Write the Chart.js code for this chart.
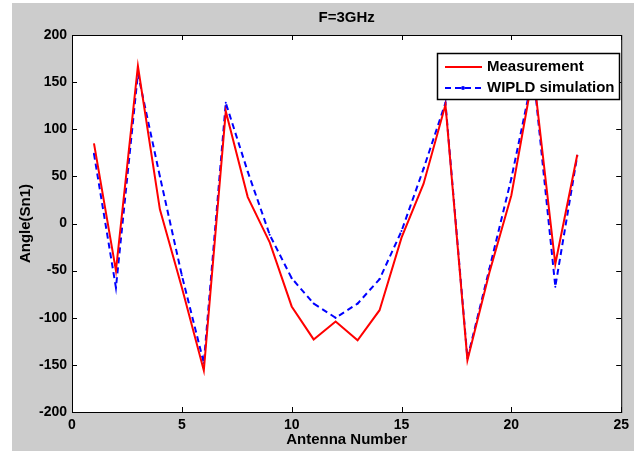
<!DOCTYPE html>
<html>
<head>
<meta charset="utf-8">
<script src="https://cdn.jsdelivr.net/npm/chart.js@4/dist/chart.umd.min.js"></script>
<style>
  html, body { margin: 0; padding: 0; background: #fff; }
  #fig { position: absolute; left: 12px; top: 3px; background: #cccccc; }
</style>
</head>
<body>
<canvas id="fig" width="622" height="448"></canvas>
<script>
// antenna index along the array
const antenna = [1, 2, 3, 4, 5, 6, 7, 8, 9, 10, 11, 12, 13, 14, 15, 16, 17, 18, 19, 20, 21, 22, 23];
// phase of Sn1 in degrees
const measurement = [85, -50, 167, 15, -68, -156, 119, 28, -20, -88, -123, -104, -124, -92, -15, 42, 126, -145, -52, 30, 160, -43, 73];
const wipld = [74, -68, 159, 50, -55, -148, 128, 55, -12, -58, -85, -100, -85, -59, -8, 58, 128, -143, -48, 48, 160, -67, 72];

const xTicks = [0, 5, 10, 15, 20, 25];
const yTicks = [-200, -150, -100, -50, 0, 50, 100, 150, 200];

const FONT = '"Liberation Sans", Arial, sans-serif';

// white axes box, black frame with inward ticks on all sides, titles, legend
const matlabAxes = {
    id: 'matlabAxes',
    beforeDatasetsDraw(chart) {
        const { ctx, chartArea: a } = chart;
        ctx.save();
        ctx.fillStyle = '#fff';
        ctx.fillRect(a.left, a.top, a.right - a.left, a.bottom - a.top);
        ctx.restore();
    },
    afterDraw(chart) {
        const { ctx, chartArea: a, scales } = chart;
        ctx.save();
        ctx.strokeStyle = '#000';
        ctx.lineWidth = 1;
        ctx.strokeRect(a.left + 0.5, a.top + 0.5, a.right - a.left, a.bottom - a.top);

        const tl = 5;
        ctx.beginPath();
        xTicks.forEach(v => {
            const x = Math.round(scales.x.getPixelForValue(v)) + 0.5;
            ctx.moveTo(x, a.bottom); ctx.lineTo(x, a.bottom - tl);
            ctx.moveTo(x, a.top); ctx.lineTo(x, a.top + tl);
        });
        yTicks.forEach(v => {
            const y = Math.round(scales.y.getPixelForValue(v)) + 0.5;
            ctx.moveTo(a.left, y); ctx.lineTo(a.left + tl, y);
            ctx.moveTo(a.right, y); ctx.lineTo(a.right - tl, y);
        });
        ctx.stroke();

        // titles
        ctx.fillStyle = '#000';
        ctx.font = 'bold 15px ' + FONT;
        ctx.textAlign = 'center';
        ctx.textBaseline = 'middle';
        const cx = (a.left + a.right) / 2;
        ctx.fillText('F=3GHz', cx, 15);
        ctx.fillText('Antenna Number', cx, 437);
        ctx.save();
        ctx.translate(14, (a.top + a.bottom) / 2);
        ctx.rotate(-Math.PI / 2);
        ctx.fillText('Angle(Sn1)', 0, 0);
        ctx.restore();

        // legend
        const lx = 425, ly = 50, lw = 182, lh = 46;
        ctx.fillStyle = '#fff';
        ctx.fillRect(lx, ly, lw, lh);
        ctx.strokeStyle = '#000';
        ctx.lineWidth = 1.5;
        ctx.strokeRect(lx + 0.5, ly + 0.5, lw, lh);
        ctx.font = 'bold 15px ' + FONT;
        ctx.textAlign = 'left';
        chart.data.datasets.forEach((ds, i) => {
            const y = ly + 14 + i * 21;
            ctx.strokeStyle = ds.borderColor;
            ctx.lineWidth = ds.borderWidth;
            ctx.setLineDash(ds.borderDash || []);
            ctx.beginPath();
            ctx.moveTo(lx + 8, y);
            ctx.lineTo(lx + 45, y);
            ctx.stroke();
            ctx.setLineDash([]);
            if (ds.pointRadius > 0) {
                ctx.fillStyle = ds.borderColor;
                ctx.beginPath();
                ctx.arc(lx + 26, y, 2, 0, Math.PI * 2);
                ctx.fill();
            }
            ctx.fillStyle = '#000';
            ctx.fillText(ds.label, lx + 50, y);
        });
        ctx.restore();
    }
};

new Chart(document.getElementById('fig').getContext('2d'), {
    type: 'line',
    data: {
        labels: antenna,
        datasets: [
            {
                label: 'Measurement',
                data: antenna.map((a, i) => ({ x: a, y: measurement[i] })),
                borderColor: '#ff0000',
                borderWidth: 2,
                pointRadius: 0,
                tension: 0
            },
            {
                label: 'WIPLD simulation',
                data: antenna.map((a, i) => ({ x: a, y: wipld[i] })),
                borderColor: '#0000ff',
                borderWidth: 2,
                borderDash: [6, 4],
                pointRadius: 1,
                pointBackgroundColor: '#0000ff',
                pointBorderWidth: 0,
                tension: 0
            }
        ]
    },
    options: {
        responsive: false,
        animation: false,
        layout: { padding: { top: 32, right: 9, left: 0, bottom: 0 } },
        plugins: {
            legend: { display: false },
            tooltip: { enabled: false }
        },
        scales: {
            x: {
                type: 'linear',
                min: 0,
                max: 25,
                afterFit: s => { s.height = 39; },
                afterBuildTicks: s => { s.ticks = xTicks.map(v => ({ value: v })); },
                grid: { display: false, drawTicks: false },
                border: { display: false },
                ticks: {
                    padding: 5,
                    color: '#000',
                    font: { family: FONT, size: 14, weight: 'bold' }
                }
            },
            y: {
                min: -200,
                max: 200,
                afterFit: s => { s.width = 60; },
                afterBuildTicks: s => { s.ticks = yTicks.map(v => ({ value: v })); },
                grid: { display: false, drawTicks: false },
                border: { display: false },
                ticks: {
                    padding: 5,
                    color: '#000',
                    font: { family: FONT, size: 14, weight: 'bold' }
                }
            }
        }
    },
    plugins: [matlabAxes]
});
</script>
</body>
</html>
